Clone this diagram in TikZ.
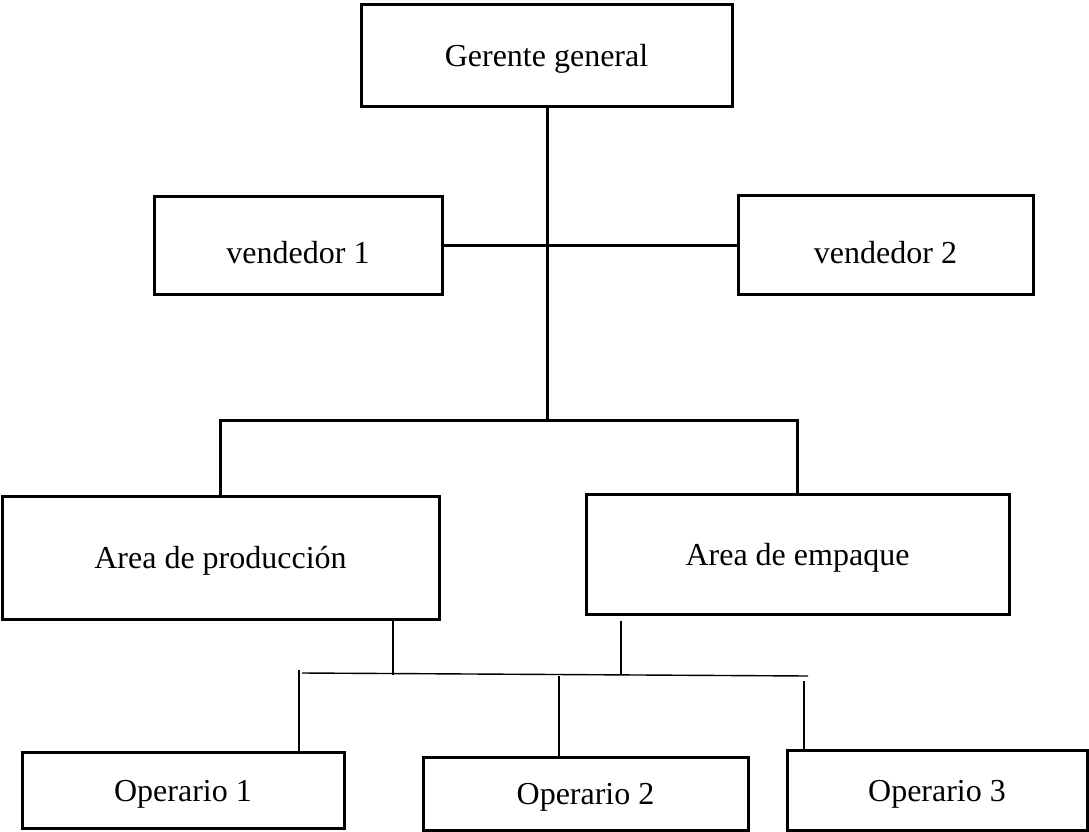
\documentclass[tikz,border=0pt]{standalone}
\usepackage{fontspec}
\setmainfont{Liberation Serif}
\begin{document}
\begin{tikzpicture}[x=1pt,y=-1pt,
  box/.style={draw=black,line width=3pt,inner sep=0pt,text height=28pt,text depth=6pt,font=\fontsize{32}{38}\selectfont},
  lowtext/.style={text height=42pt,text depth=6pt},
  thickline/.style={line width=3pt},
  thinline/.style={line width=1.4pt}]
\useasboundingbox (0,0) rectangle (1089,832);
\node[box,minimum width=371pt,minimum height=102pt] (ger) at (546.5,56) {Gerente general};
\node[box,lowtext,minimum width=288pt,minimum height=98pt] (v1) at (298,245) {vendedor 1};
\node[box,lowtext,minimum width=295pt,minimum height=99pt] (v2) at (885.5,245) {vendedor 2};
\node[box,minimum width=437pt,minimum height=123pt] (prod) at (220.5,557.5) {Area de producción};
\node[box,minimum width=423pt,minimum height=120pt] (emp) at (797.5,554) {Area de empaque};
\node[box,minimum width=322pt,minimum height=76pt] (op1) at (183,790) {Operario 1};
\node[box,minimum width=325pt,minimum height=73pt] (op2) at (585.5,793.5) {Operario 2};
\node[box,minimum width=300pt,minimum height=80pt] (op3) at (937,790) {Operario 3};
% upper connectors
\coordinate (j) at (547,420);
\draw[thickline] (ger.south -| j) -- (j);
\draw[thickline] (v1.east) -- (v2.west);
\draw[thickline] (prod.north) |- (j) -| (emp.north);
% lower connectors
\coordinate (p1) at (393,675);
\coordinate (e1) at (621,675);
\coordinate (hl) at (302,673);
\coordinate (hr) at (808,676);
\coordinate (o1) at (299,670);
\coordinate (o2) at (559,676);
\coordinate (o3) at (804,681);
\draw[thinline] (p1 |- prod.south) -- (p1);
\draw[thinline,shorten <=5pt] (e1 |- emp.south) -- (e1);
\draw[thinline] (hl) -- (hr);
\draw[thinline] (o1) -- (o1 |- op1.north);
\draw[thinline] (o2) -- (o2 |- op2.north);
\draw[thinline] (o3) -- (o3 |- op3.north);
\end{tikzpicture}
\end{document}
